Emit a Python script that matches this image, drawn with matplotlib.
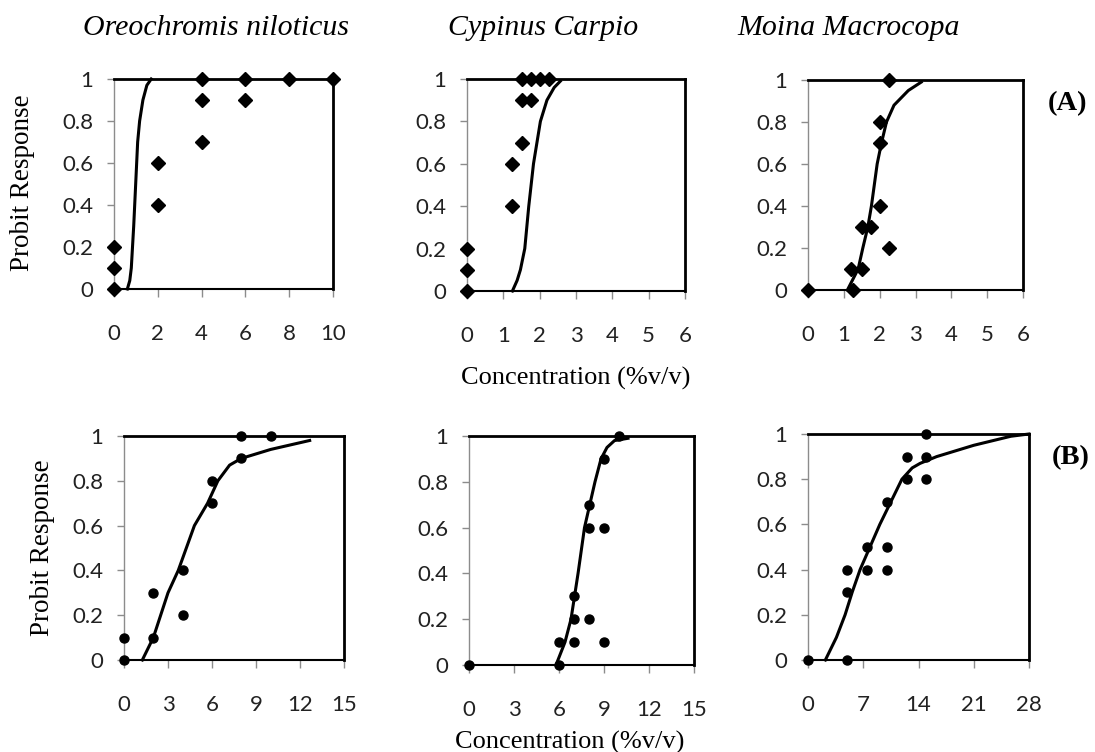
import matplotlib.pyplot as plt

W, H = 1095, 752

titles = ["Oreochromis niloticus", "Cypinus Carpio", "Moina Macrocopa"]

# row A: observed points (diamonds) and fitted probit curves
a_x = [
    [0, 0, 0, 2, 2, 4, 4, 4, 6, 6, 8, 10],
    [0, 0, 0, 1.25, 1.25, 1.5, 1.5, 1.75, 1.5, 1.75, 2.0, 2.25],
    [0, 1.25, 1.2, 1.5, 1.5, 1.75, 2.0, 2.0, 2.0, 2.25, 2.25],
]
a_y = [
    [0, 0.1, 0.2, 0.4, 0.6, 0.7, 0.9, 1, 0.9, 1, 1, 1],
    [0, 0.1, 0.2, 0.4, 0.6, 0.7, 0.9, 0.9, 1, 1, 1, 1],
    [0, 0, 0.1, 0.1, 0.3, 0.3, 0.4, 0.7, 0.8, 0.2, 1],
]
a_fit_x = [
    [0.61, 0.72, 0.79, 0.9, 0.99, 1.08, 1.17, 1.32, 1.5, 1.7],
    [1.25, 1.38, 1.47, 1.59, 1.70, 1.83, 2.02, 2.2, 2.4, 2.57],
    [1.1, 1.25, 1.4, 1.53, 1.67, 1.77, 1.93, 2.05, 2.19, 2.4, 2.8, 3.16],
]
a_fit_y = [
    [0, 0.04, 0.1, 0.3, 0.5, 0.7, 0.8, 0.9, 0.97, 1.0],
    [0, 0.05, 0.1, 0.2, 0.4, 0.6, 0.8, 0.9, 0.96, 0.99],
    [0, 0.05, 0.1, 0.2, 0.3, 0.4, 0.6, 0.7, 0.8, 0.88, 0.95, 0.99],
]
a_xticks = [[0, 2, 4, 6, 8, 10], [0, 1, 2, 3, 4, 5, 6], [0, 1, 2, 3, 4, 5, 6]]

# row B: observed points (circles) and fitted probit curves
b_x = [
    [0, 0, 2, 2, 4, 4, 6, 6, 8, 8, 10],
    [0, 6, 6, 7, 7, 7, 8, 8, 8, 9, 9, 9, 10],
    [0, 5, 5, 5, 7.5, 7.5, 10, 10, 10, 12.5, 12.5, 15, 15, 15],
]
b_y = [
    [0, 0.1, 0.1, 0.3, 0.2, 0.4, 0.7, 0.8, 0.9, 1, 1],
    [0, 0, 0.1, 0.1, 0.2, 0.3, 0.2, 0.6, 0.7, 0.1, 0.6, 0.9, 1],
    [0, 0, 0.3, 0.4, 0.4, 0.5, 0.4, 0.5, 0.7, 0.8, 0.9, 0.8, 0.9, 1],
]
b_fit_x = [
    [1.25, 2.0, 2.5, 3.0, 3.7, 4.8, 5.7, 6.4, 7.2, 8.0, 10, 12.66],
    [5.8, 6.1, 6.4, 6.8, 7.27, 7.7, 8.4, 8.8, 9.2, 9.7, 10.6],
    [2.2, 3.6, 4.7, 5.6, 6.6, 9.1, 11.9, 13.2, 14.2, 16.3, 21, 25.7, 28],
]
b_fit_y = [
    [0, 0.1, 0.2, 0.3, 0.4, 0.6, 0.7, 0.8, 0.87, 0.9, 0.94, 0.98],
    [0, 0.05, 0.1, 0.2, 0.4, 0.6, 0.8, 0.9, 0.95, 0.98, 0.99],
    [0, 0.1, 0.2, 0.3, 0.4, 0.6, 0.8, 0.85, 0.87, 0.9, 0.95, 0.99, 1.0],
]
b_xticks = [[0, 3, 6, 9, 12, 15], [0, 3, 6, 9, 12, 15], [0, 7, 14, 21, 28]]

yticks = [0, 0.2, 0.4, 0.6, 0.8, 1]
ytick_labels = ["0", "0.2", "0.4", "0.6", "0.8", "1"]

# axes boxes in pixels: left, top, right, bottom
a_boxes = [(114, 79, 333, 289), (467, 79, 685, 291), (808, 80, 1023, 290)]
b_boxes = [(124, 436, 344, 660), (469, 436, 694, 665), (808, 434, 1029, 660)]

tick_font = "Lato"
serif = "Liberation Serif"

fig = plt.figure(figsize=(W / 100, H / 100), dpi=100)


def make_axes(box):
    l, t, r, b = box
    return fig.add_axes([l / W, 1 - b / H, (r - l) / W, (b - t) / H])


def style(ax, xticks):
    ax.set_xlim(xticks[0], xticks[-1])
    ax.set_ylim(0, 1)
    ax.set_xticks(xticks)
    ax.set_yticks(yticks)
    ax.set_yticklabels(ytick_labels)
    ax.spines["top"].set_color("black")
    ax.spines["top"].set_linewidth(2)
    ax.spines["right"].set_color("black")
    ax.spines["right"].set_linewidth(2)
    ax.spines["bottom"].set_color("black")
    ax.spines["bottom"].set_linewidth(1.5)
    ax.spines["left"].set_color("#8c8c8c")
    ax.spines["left"].set_linewidth(1)
    ax.tick_params(axis="x", direction="out", length=6, width=1, color="#8c8c8c",
                   pad=19, labelsize=16, labelcolor="#222222")
    ax.tick_params(axis="y", direction="out", length=5, width=1, color="#8c8c8c",
                   pad=10, labelsize=16, labelcolor="#222222")
    for lab in ax.get_xticklabels() + ax.get_yticklabels():
        lab.set_fontfamily(tick_font)


for i in range(3):
    ax = make_axes(a_boxes[i])
    ax.plot(a_fit_x[i], a_fit_y[i], color="black", lw=2.2, clip_on=False)
    ax.plot(a_x[i], a_y[i], "D", color="black", ms=7, clip_on=False, zorder=5)
    style(ax, a_xticks[i])

for i in range(3):
    ax = make_axes(b_boxes[i])
    ax.plot(b_fit_x[i], b_fit_y[i], color="black", lw=2.2, clip_on=False)
    ax.plot(b_x[i], b_y[i], "o", color="black", ms=6.5, clip_on=False, zorder=5)
    style(ax, b_xticks[i])

title_x = [216, 543, 849]
for tx, title in zip(title_x, titles):
    fig.text(tx / W, 1 - 28 / H, title, ha="center", va="center",
             fontfamily=serif, fontstyle="italic", fontsize=21.5)

fig.text(23 / W, 1 - 183 / H, "Probit Response", rotation=90, ha="center",
         va="center", fontfamily=serif, fontsize=19.5)
fig.text(43 / W, 1 - 548 / H, "Probit Response", rotation=90, ha="center",
         va="center", fontfamily=serif, fontsize=19.5)

fig.text(576 / W, 1 - 378 / H, "Concentration (%v/v)", ha="center", va="center",
         fontfamily=serif, fontsize=19)
fig.text(570 / W, 1 - 742 / H, "Concentration (%v/v)", ha="center", va="center",
         fontfamily=serif, fontsize=19)

fig.text(1048 / W, 1 - 104 / H, "(A)", ha="left", va="center",
         fontfamily=serif, fontweight="bold", fontsize=20.5)
fig.text(1052 / W, 1 - 458 / H, "(B)", ha="left", va="center",
         fontfamily=serif, fontweight="bold", fontsize=20.5)

fig.savefig("out.png", dpi=100)
